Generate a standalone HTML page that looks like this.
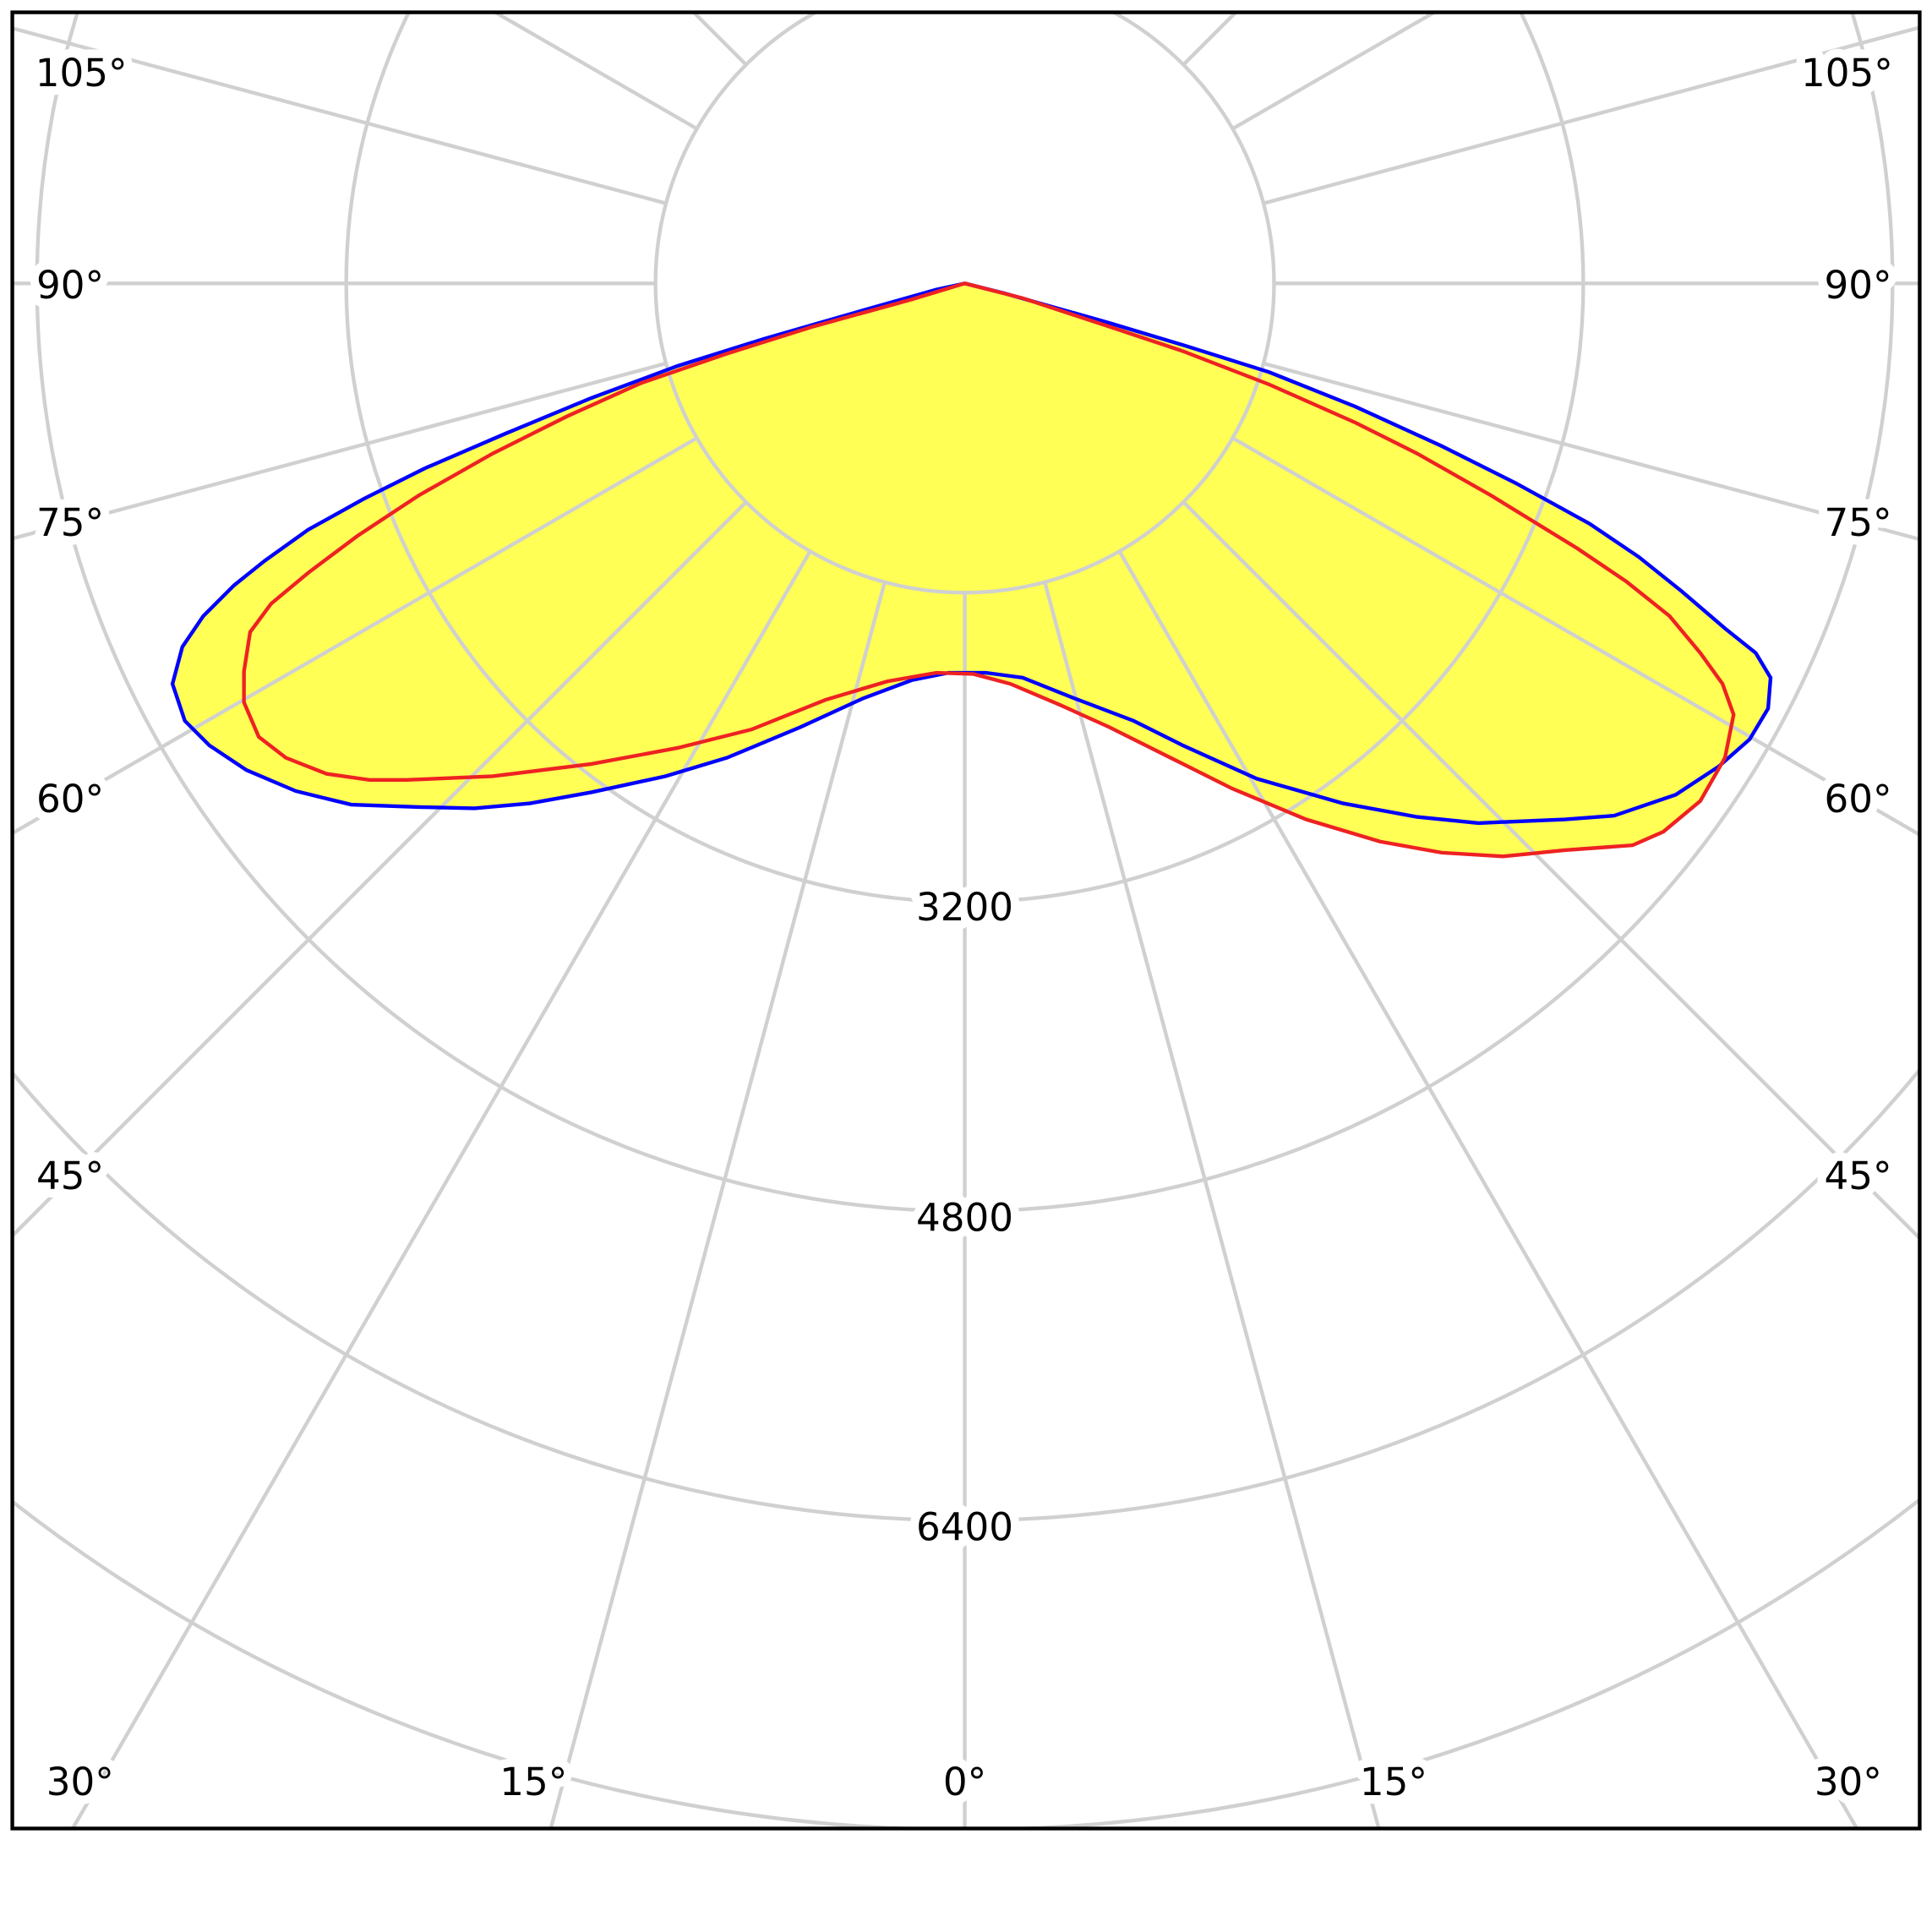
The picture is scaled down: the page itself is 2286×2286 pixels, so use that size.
<!DOCTYPE html>
<html><head><style>html,body{margin:0;padding:0;background:#fff;overflow:hidden;width:2286px;height:2286px}svg{display:block}</style></head>
<body>
<svg width="2286" height="2286" viewBox="0 0 1568 1568" xmlns="http://www.w3.org/2000/svg">
<defs><clipPath id="c"><rect x="10" y="10" width="1548" height="1474"/></clipPath></defs>
<rect width="1568" height="1568" fill="#fff"/>
<g clip-path="url(#c)">
<g fill="#ffff55" stroke="none">
<path id="b" d="M783,230 L815,238 900,262 960,280 1030,302 1100,330 1170,362 1230,392 1290,425 1330,452 1365,480 1400,510 1425,530 1437,550 1435,575 1420,600 1395,622 1360,645 1310,662 1270,665 1200,668 1150,663 1090,652 1020,632 960,605 920,585 870,566 830,550 800,546 770,546 740,552 700,567 650,590 590,615 540,630 480,643 430,652 385,656 340,655 285,653 240,642 200,625 170,605 150,585 140,555 148,525 165,500 190,475 215,455 250,430 295,405 345,380 410,352 480,323 550,297 620,275 700,252 760,235 Z"/>
<path id="r" d="M783,230 L830,242 900,265 960,285 1030,312 1100,343 1150,368 1210,402 1280,445 1320,472 1355,500 1380,530 1398,555 1407,580 1400,615 1380,650 1350,675 1325,686 1270,690 1220,695 1170,692 1120,683 1060,665 1000,640 950,615 900,590 860,572 820,555 790,547 760,546 720,553 670,568 610,592 550,607 480,620 400,630 330,633 300,633 265,628 232,615 210,598 198,570 198,545 203,513 220,490 250,465 290,435 340,402 400,368 460,338 520,311 590,287 660,265 740,243 Z"/>
</g>
<g fill="none" stroke="#d0d0d0" stroke-width="3">
<circle cx="783" cy="230" r="251"/><circle cx="783" cy="230" r="502"/><circle cx="783" cy="230" r="753"/><circle cx="783" cy="230" r="1004"/><circle cx="783" cy="230" r="1255"/>
<line x1="783" y1="481" x2="783" y2="2300"/>
<line x1="783" y1="481" x2="783" y2="2300" transform="rotate(15 783 230)"/>
<line x1="783" y1="481" x2="783" y2="2300" transform="rotate(30 783 230)"/>
<line x1="783" y1="481" x2="783" y2="2300" transform="rotate(45 783 230)"/>
<line x1="783" y1="481" x2="783" y2="2300" transform="rotate(60 783 230)"/>
<line x1="783" y1="481" x2="783" y2="2300" transform="rotate(75 783 230)"/>
<line x1="783" y1="481" x2="783" y2="2300" transform="rotate(90 783 230)"/>
<line x1="783" y1="481" x2="783" y2="2300" transform="rotate(105 783 230)"/>
<line x1="783" y1="481" x2="783" y2="2300" transform="rotate(120 783 230)"/>
<line x1="783" y1="481" x2="783" y2="2300" transform="rotate(135 783 230)"/>
<line x1="783" y1="481" x2="783" y2="2300" transform="rotate(-15 783 230)"/>
<line x1="783" y1="481" x2="783" y2="2300" transform="rotate(-30 783 230)"/>
<line x1="783" y1="481" x2="783" y2="2300" transform="rotate(-45 783 230)"/>
<line x1="783" y1="481" x2="783" y2="2300" transform="rotate(-60 783 230)"/>
<line x1="783" y1="481" x2="783" y2="2300" transform="rotate(-75 783 230)"/>
<line x1="783" y1="481" x2="783" y2="2300" transform="rotate(-90 783 230)"/>
<line x1="783" y1="481" x2="783" y2="2300" transform="rotate(-105 783 230)"/>
<line x1="783" y1="481" x2="783" y2="2300" transform="rotate(-120 783 230)"/>
<line x1="783" y1="481" x2="783" y2="2300" transform="rotate(-135 783 230)"/>
</g>
<use href="#b" fill="none" stroke="#0000ff" stroke-width="3"/>
<use href="#r" fill="none" stroke="#ee2222" stroke-width="3"/>
<g font-family="DejaVu Sans, Liberation Sans, sans-serif" font-size="31" fill="#000" stroke="#fff" stroke-width="14" paint-order="stroke" stroke-linejoin="round" text-anchor="middle">
<text x="783" y="747">3200</text><text x="783" y="999">4800</text><text x="783" y="1250">6400</text>
<text x="65" y="1457">30°</text><text x="433" y="1457">15°</text><text x="783" y="1457">0°</text><text x="1131" y="1457">15°</text><text x="1500" y="1457">30°</text>
<text x="66" y="70">105°</text><text x="57" y="242">90°</text><text x="57" y="435">75°</text><text x="57" y="659">60°</text><text x="57" y="965">45°</text>
<text x="1499" y="70">105°</text><text x="1508" y="242">90°</text><text x="1508" y="435">75°</text><text x="1508" y="659">60°</text><text x="1508" y="965">45°</text>
</g>
</g>
<rect x="10" y="10" width="1548" height="1474" fill="none" stroke="#000" stroke-width="3"/>
</svg>
</body></html>
